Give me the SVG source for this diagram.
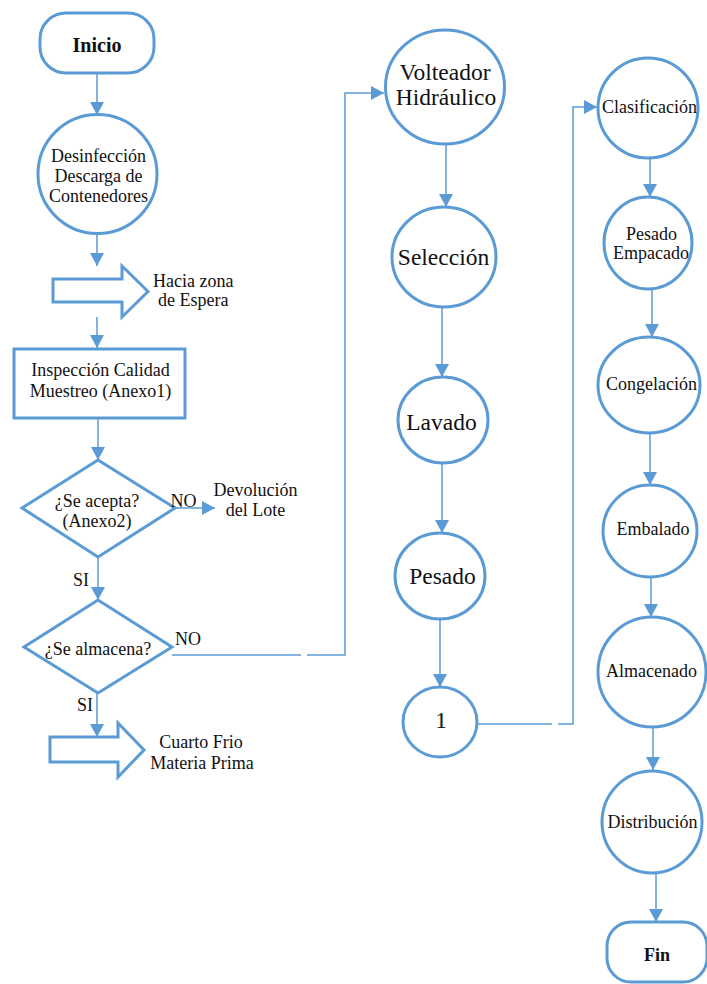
<svg xmlns="http://www.w3.org/2000/svg" width="707" height="984" viewBox="0 0 707 984">
  <style>
    .shape { fill: #ffffff; stroke: #5b9bd5; stroke-width: 3; }
    .link { fill: none; stroke: #5b9bd5; stroke-width: 1.5; }
    .arrow { fill: none; stroke: #5b9bd5; stroke-width: 1.5; marker-end: url(#head); }
    .label { font-family: 'Liberation Serif', 'DejaVu Serif', 'Times New Roman', serif; fill: #111111; text-anchor: middle; }
    .s18 { font-size: 18px; }
    .s23 { font-size: 23.5px; }
    .bold { font-weight: bold; }
    .left { text-anchor: start; }
  </style>
  <defs>
    <marker id="head" markerWidth="14" markerHeight="14" refX="13" refY="7" orient="auto" markerUnits="userSpaceOnUse">
      <path d="M0,0 L13,7 L0,14 Z" fill="#5b9bd5"/>
    </marker>
  </defs>

  <!-- connectors -->
  <g id="connectors">
    <line class="arrow" x1="97" y1="73" x2="97" y2="115"/>
    <line class="arrow" x1="97" y1="234" x2="97" y2="266"/>
    <line class="arrow" x1="97" y1="317" x2="97" y2="348"/>
    <line class="arrow" x1="98" y1="418" x2="98" y2="460"/>
    <line class="arrow" x1="175" y1="508" x2="215" y2="508"/>
    <line class="arrow" x1="98" y1="558" x2="98" y2="600"/>
    <line class="arrow" x1="97" y1="693" x2="97" y2="737"/>
    <!-- NO branch of "¿Se almacena?" to the Volteador -->
    <polyline class="link" points="172,655 301,655"/>
    <polyline class="arrow" points="307,655 345,655 345,93 384,93"/>
    <line class="arrow" x1="446" y1="143" x2="446" y2="207"/>
    <line class="arrow" x1="442" y1="307" x2="442" y2="377"/>
    <line class="arrow" x1="442" y1="463" x2="442" y2="533"/>
    <line class="arrow" x1="440" y1="619" x2="440" y2="687"/>
    <!-- connector "1" to Clasificación -->
    <polyline class="link" points="477,724 552,724"/>
    <polyline class="arrow" points="558,724 573,724 573,107 597,107"/>
    <line class="arrow" x1="650" y1="157" x2="650" y2="197"/>
    <line class="arrow" x1="652" y1="290" x2="652" y2="337"/>
    <line class="arrow" x1="650" y1="433" x2="650" y2="485"/>
    <line class="arrow" x1="651" y1="577" x2="651" y2="617"/>
    <line class="arrow" x1="653" y1="727" x2="653" y2="770"/>
    <line class="arrow" x1="656" y1="873" x2="656" y2="922"/>
  </g>

  <g class="label">
  <!-- left column -->
  <g id="inicio">
    <rect class="shape" x="40" y="13" width="114" height="60" rx="26" ry="26"/>
    <text class="bold" font-size="20" x="97" y="52">Inicio</text>
  </g>
  <g id="desinfeccion">
    <circle class="shape" cx="97.5" cy="174" r="59.5"/>
    <text class="s18" x="98.5" y="162">Desinfección</text>
    <text class="s18" x="98.5" y="182">Descarga de</text>
    <text class="s18" x="98.5" y="202">Contenedores</text>
  </g>
  <g id="zona-espera">
    <path class="shape" d="M53,279 H122 V266 L148,291.5 L122,317 V302 H53 Z"/>
    <text class="s18 left" x="153" y="287">Hacia zona</text>
    <text class="s18 left" x="158" y="306">de Espera</text>
  </g>
  <g id="inspeccion">
    <rect class="shape" x="14" y="349" width="171" height="69"/>
    <text class="s18" x="100.5" y="376">Inspección Calidad</text>
    <text class="s18" x="100.5" y="397">Muestreo (Anexo1)</text>
  </g>
  <g id="se-acepta">
    <path class="shape" d="M98,460 L175,508 L98,557 L22,508 Z"/>
    <text class="s18" x="97" y="507">¿Se acepta?</text>
    <text class="s18" x="97" y="527">(Anexo2)</text>
    <text class="s18" x="183.5" y="507">NO</text>
    <text class="s18" x="255.5" y="496">Devolución</text>
    <text class="s18" x="255.5" y="516">del Lote</text>
    <text class="s18" x="81" y="586">SI</text>
  </g>
  <g id="se-almacena">
    <path class="shape" d="M98,600 L172,647 L98,693 L24,647 Z"/>
    <text class="s18" x="98" y="655">¿Se almacena?</text>
    <text class="s18" x="188" y="645">NO</text>
    <text class="s18" x="85" y="711">SI</text>
  </g>
  <g id="cuarto-frio">
    <path class="shape" d="M50,737 H118 V723 L144,750 L118,777 V762 H50 Z"/>
    <text class="s18" x="201" y="748">Cuarto Frio</text>
    <text class="s18" x="202" y="769">Materia Prima</text>
  </g>

  <!-- middle column -->
  <g id="volteador">
    <ellipse class="shape" cx="445" cy="87" rx="59.5" ry="57"/>
    <text class="s23" x="445" y="80">Volteador</text>
    <text class="s23" x="446" y="105">Hidráulico</text>
  </g>
  <g id="seleccion">
    <ellipse class="shape" cx="444" cy="257" rx="52" ry="50"/>
    <text class="s23" x="443.5" y="265">Selección</text>
  </g>
  <g id="lavado">
    <ellipse class="shape" cx="443" cy="420" rx="45" ry="43"/>
    <text class="s23" x="441.5" y="430">Lavado</text>
  </g>
  <g id="pesado">
    <ellipse class="shape" cx="440" cy="576" rx="45" ry="43"/>
    <text class="s23" x="442.5" y="584">Pesado</text>
  </g>
  <g id="conector-1">
    <ellipse class="shape" cx="440" cy="722" rx="37" ry="35"/>
    <text class="s23" x="441" y="728">1</text>
  </g>

  <!-- right column -->
  <g id="clasificacion">
    <circle class="shape" cx="648" cy="108" r="50"/>
    <text class="s18" x="649.5" y="113">Clasificación</text>
  </g>
  <g id="pesado-empacado">
    <ellipse class="shape" cx="648" cy="243" rx="44" ry="46"/>
    <text class="s18" x="651.5" y="240">Pesado</text>
    <text class="s18" x="651" y="259">Empacado</text>
  </g>
  <g id="congelacion">
    <ellipse class="shape" cx="649" cy="385" rx="51" ry="48"/>
    <text class="s18" x="651.5" y="390">Congelación</text>
  </g>
  <g id="embalado">
    <ellipse class="shape" cx="650" cy="531" rx="47" ry="46"/>
    <text class="s18" x="653" y="535">Embalado</text>
  </g>
  <g id="almacenado">
    <ellipse class="shape" cx="652" cy="672" rx="54" ry="55"/>
    <text class="s18" x="651.5" y="677">Almacenado</text>
  </g>
  <g id="distribucion">
    <ellipse class="shape" cx="652" cy="822" rx="50" ry="51"/>
    <text class="s18" x="652.5" y="828">Distribución</text>
  </g>
  <g id="fin">
    <rect class="shape" x="607" y="922" width="100" height="60" rx="24" ry="24"/>
    <text class="bold" font-size="18" x="657" y="961">Fin</text>
  </g>
  </g>
</svg>
